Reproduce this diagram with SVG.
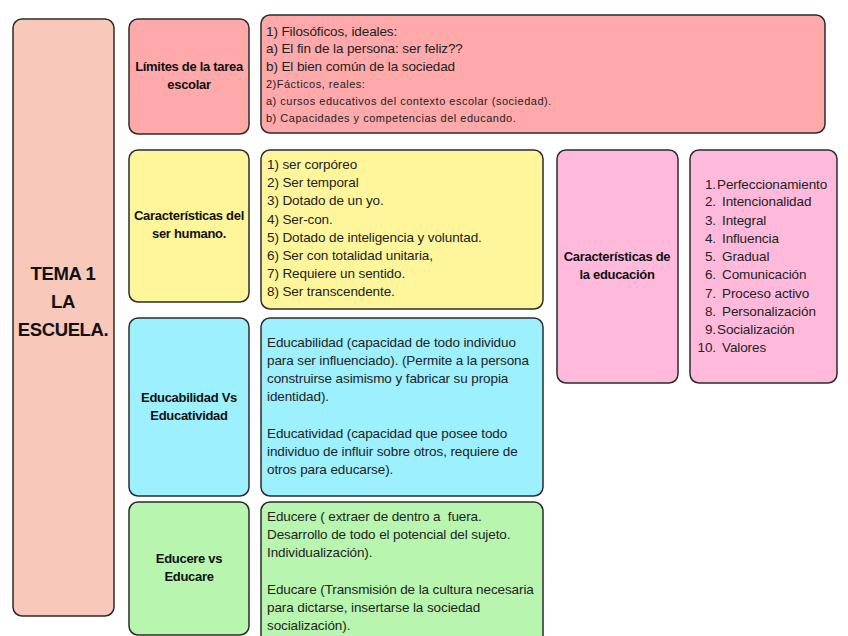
<svg xmlns="http://www.w3.org/2000/svg" width="848" height="636" viewBox="0 0 848 636">
<style>
.box{stroke:#2b2b2b;stroke-width:1.5}
.t{font-family:"Liberation Sans Narrow","Liberation Sans",Arial,sans-serif;font-weight:bold;font-size:13px;fill:#111;text-anchor:middle;letter-spacing:-0.3px}
.b{font-family:"Liberation Sans",Arial,sans-serif;font-size:13.5px;fill:#222;letter-spacing:-0.1px}
.s{font-family:"Liberation Sans",Arial,sans-serif;font-size:11px;fill:#222;letter-spacing:0.5px}
.big{font-family:"Liberation Sans Narrow","Liberation Sans",Arial,sans-serif;font-weight:bold;font-size:18.5px;fill:#111;text-anchor:middle;letter-spacing:-0.4px}
.r{text-anchor:end}
</style>
<rect width="848" height="636" fill="#fff"/>
<g id="tema">
<rect class="box" x="13" y="19" width="101" height="597" rx="9" fill="#F8C8BA"/>
<text class="big" x="63" y="280">TEMA 1</text>
<text class="big" x="63" y="308">LA</text>
<text class="big" x="63" y="336">ESCUELA.</text>
</g>
<g id="limites">
<rect class="box" x="129" y="19" width="120" height="115" rx="9" fill="#FFA9AB"/>
<text class="t" x="189" y="71">Límites de la tarea</text>
<text class="t" x="189" y="89">escolar</text>
</g>
<g id="limites-texto">
<rect class="box" x="261" y="15" width="564" height="118" rx="9" fill="#FFA9AB"/>
<text class="b" x="266" y="36">1) Filosóficos, ideales:</text>
<text class="b" x="266" y="53">a) El fin de la persona: ser feliz??</text>
<text class="b" x="266" y="71">b) El bien común de la sociedad</text>
<text class="s" x="266" y="88">2)Fácticos, reales:</text>
<text class="s" x="266" y="105">a) cursos educativos del contexto escolar (sociedad).</text>
<text class="s" x="266" y="122">b) Capacidades y competencias del educando.</text>
</g>
<g id="caracteristicas-humano">
<rect class="box" x="129" y="150" width="120" height="152" rx="9" fill="#FFF69C"/>
<text class="t" x="189" y="220">Características del</text>
<text class="t" x="189" y="238">ser humano.</text>
</g>
<g id="caracteristicas-humano-texto">
<rect class="box" x="261" y="150" width="282" height="159" rx="9" fill="#FFF69C"/>
<text class="b" x="267" y="169">1) ser corpóreo</text>
<text class="b" x="267" y="187">2) Ser temporal</text>
<text class="b" x="267" y="205">3) Dotado de un yo.</text>
<text class="b" x="267" y="223.5">4) Ser-con.</text>
<text class="b" x="267" y="241.5">5) Dotado de inteligencia y voluntad.</text>
<text class="b" x="267" y="259.5">6) Ser con totalidad unitaria,</text>
<text class="b" x="267" y="278">7) Requiere un sentido.</text>
<text class="b" x="267" y="296">8) Ser transcendente.</text>
</g>
<g id="caracteristicas-educacion">
<rect class="box" x="557" y="150" width="121" height="233" rx="9" fill="#FFBADB"/>
<text class="t" x="617" y="261">Características de</text>
<text class="t" x="617" y="279">la educación</text>
</g>
<g id="caracteristicas-educacion-texto">
<rect class="box" x="690" y="150" width="147" height="233" rx="9" fill="#FFBADB"/>
<text class="b r" x="716" y="189">1.</text><text class="b" x="717" y="189">Perfeccionamiento</text>
<text class="b r" x="716" y="206">2.</text><text class="b" x="722" y="206">Intencionalidad</text>
<text class="b r" x="716" y="224.5">3.</text><text class="b" x="722" y="224.5">Integral</text>
<text class="b r" x="716" y="242.5">4.</text><text class="b" x="722" y="242.5">Influencia</text>
<text class="b r" x="716" y="261">5.</text><text class="b" x="722" y="261">Gradual</text>
<text class="b r" x="716" y="279">6.</text><text class="b" x="722" y="279">Comunicación</text>
<text class="b r" x="716" y="297.5">7.</text><text class="b" x="722" y="297.5">Proceso activo</text>
<text class="b r" x="716" y="315.5">8.</text><text class="b" x="722" y="315.5">Personalización</text>
<text class="b r" x="716" y="334">9.</text><text class="b" x="717" y="334">Socialización</text>
<text class="b r" x="716" y="352">10.</text><text class="b" x="722" y="352">Valores</text>
</g>
<g id="educabilidad">
<rect class="box" x="129" y="318" width="120" height="178" rx="9" fill="#9DF0FE"/>
<text class="t" x="189" y="402">Educabilidad Vs</text>
<text class="t" x="189" y="420">Educatividad</text>
</g>
<g id="educabilidad-texto">
<rect class="box" x="261" y="318" width="282" height="178" rx="9" fill="#9DF0FE"/>
<text class="b" x="267" y="347">Educabilidad (capacidad de todo individuo</text>
<text class="b" x="267" y="365">para ser influenciado). (Permite a la persona</text>
<text class="b" x="267" y="383">construirse asimismo y fabricar su propia</text>
<text class="b" x="267" y="401">identidad).</text>
<text class="b" x="267" y="438">Educatividad (capacidad que posee todo</text>
<text class="b" x="267" y="456">individuo de influir sobre otros, requiere de</text>
<text class="b" x="267" y="474">otros para educarse).</text>
</g>
<g id="educere">
<rect class="box" x="129" y="502" width="120" height="133" rx="9" fill="#B8F6AF"/>
<text class="t" x="189" y="563">Educere vs</text>
<text class="t" x="189" y="581">Educare</text>
</g>
<g id="educere-texto">
<rect class="box" x="261" y="502" width="282" height="150" rx="9" fill="#B8F6AF"/>
<text class="b" x="267" y="521" xml:space="preserve">Educere ( extraer de dentro a  fuera.</text>
<text class="b" x="267" y="539">Desarrollo de todo el potencial del sujeto.</text>
<text class="b" x="267" y="557">Individualización).</text>
<text class="b" x="267" y="594">Educare (Transmisión de la cultura necesaria</text>
<text class="b" x="267" y="612">para dictarse, insertarse la sociedad</text>
<text class="b" x="267" y="630">socialización).</text>
</g>
<g id="connectors"></g>
</svg>
